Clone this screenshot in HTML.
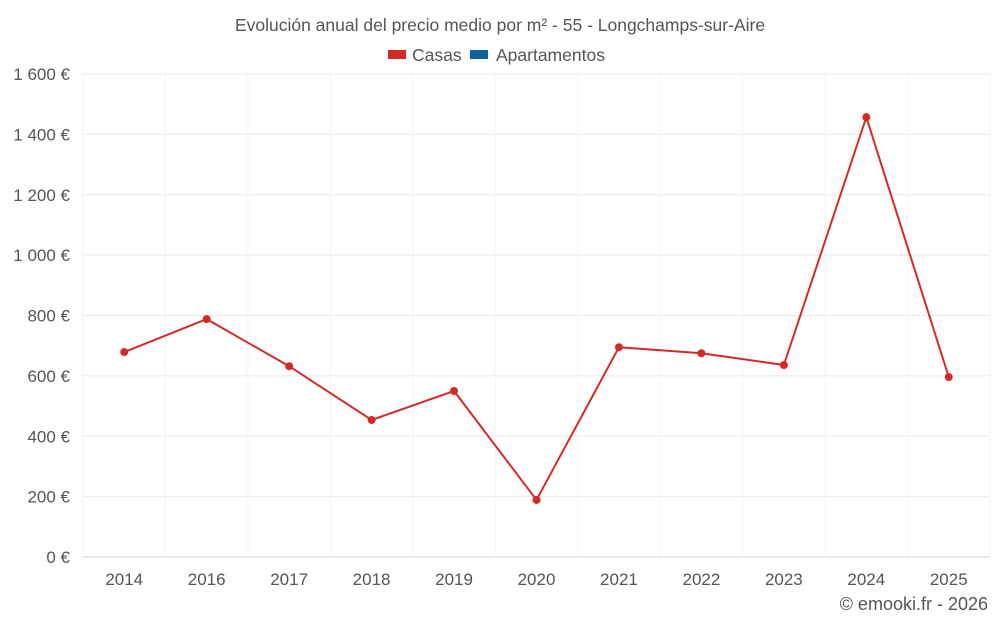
<!DOCTYPE html>
<html><head><meta charset="utf-8"><style>
body{margin:0;background:#fff;font-family:"Liberation Sans",sans-serif;}
svg text{font-family:"Liberation Sans",sans-serif;fill:#555;}
</style></head><body>
<svg id="chart" width="1000" height="625">
<text x="500" y="31" text-anchor="middle" font-size="17.5">Evolución anual del precio medio por m² - 55 - Longchamps-sur-Aire</text>
<g>
<rect x="388" y="50" width="18" height="9" fill="#d42a27"/>
<text x="412" y="61" font-size="17.5">Casas</text>
<rect x="470" y="50" width="18" height="9" fill="#0c62a0"/>
<text x="496" y="61" font-size="17.5">Apartamentos</text>
</g>
<g id="grid"></g><g id="axes"></g><g id="series"></g>
<text x="988" y="610" text-anchor="end" font-size="18">© emooki.fr - 2026</text>
</svg>
<script>
const categories=["2014","2016","2017","2018","2019","2020","2021","2022","2023","2024","2025"];
const casas=[679,788,632,454,550,189,695,675,636,1457,596];
const yTicks=[0,200,400,600,800,1000,1200,1400,1600];
const yTickLabels=["0 €","200 €","400 €","600 €","800 €","1 000 €","1 200 €","1 400 €","1 600 €"];
const L=83,R=990,T=74,B=557,ymax=1600;
const NS="http://www.w3.org/2000/svg";
const bw=(R-L)/categories.length;
const x=i=>L+bw*(i+0.5);
const y=v=>B-(B-T)*v/ymax;
function mk(t,a,p){const e=document.createElementNS(NS,t);for(const k in a)e.setAttribute(k,a[k]);p.appendChild(e);return e;}
const grid=document.getElementById('grid'),axes=document.getElementById('axes'),ser=document.getElementById('series');
yTicks.forEach((v,i)=>{
 const l=mk('line',{x1:L,x2:R,y1:y(v),y2:y(v),stroke:v===0?'#ccc':'#ebebeb'},grid);
 
 
 const t=mk('text',{x:70,y:y(v)+6,'text-anchor':'end','font-size':17},axes);
 t.textContent=yTickLabels[i];
 
 
});
for(let i=0;i<=categories.length;i++){
 const l=mk('line',{x1:L+bw*i,x2:L+bw*i,y1:T,y2:B,stroke:'#f3f3f3'},grid);
 
 
}
categories.forEach((c,i)=>{
 const t=mk('text',{x:x(i),y:585,'text-anchor':'middle','font-size':17},axes);
 t.textContent=c;
 
 
});
const pl=mk('polyline',{points:casas.map((v,i)=>x(i)+','+y(v)).join(' '),fill:'none',stroke:'#d42a27','stroke-width':2},ser);


casas.forEach((v,i)=>{
 const c=mk('circle',{cx:x(i),cy:y(v),r:4,fill:'#d42a27'},ser);
 
 
});
</script>
</body></html>
